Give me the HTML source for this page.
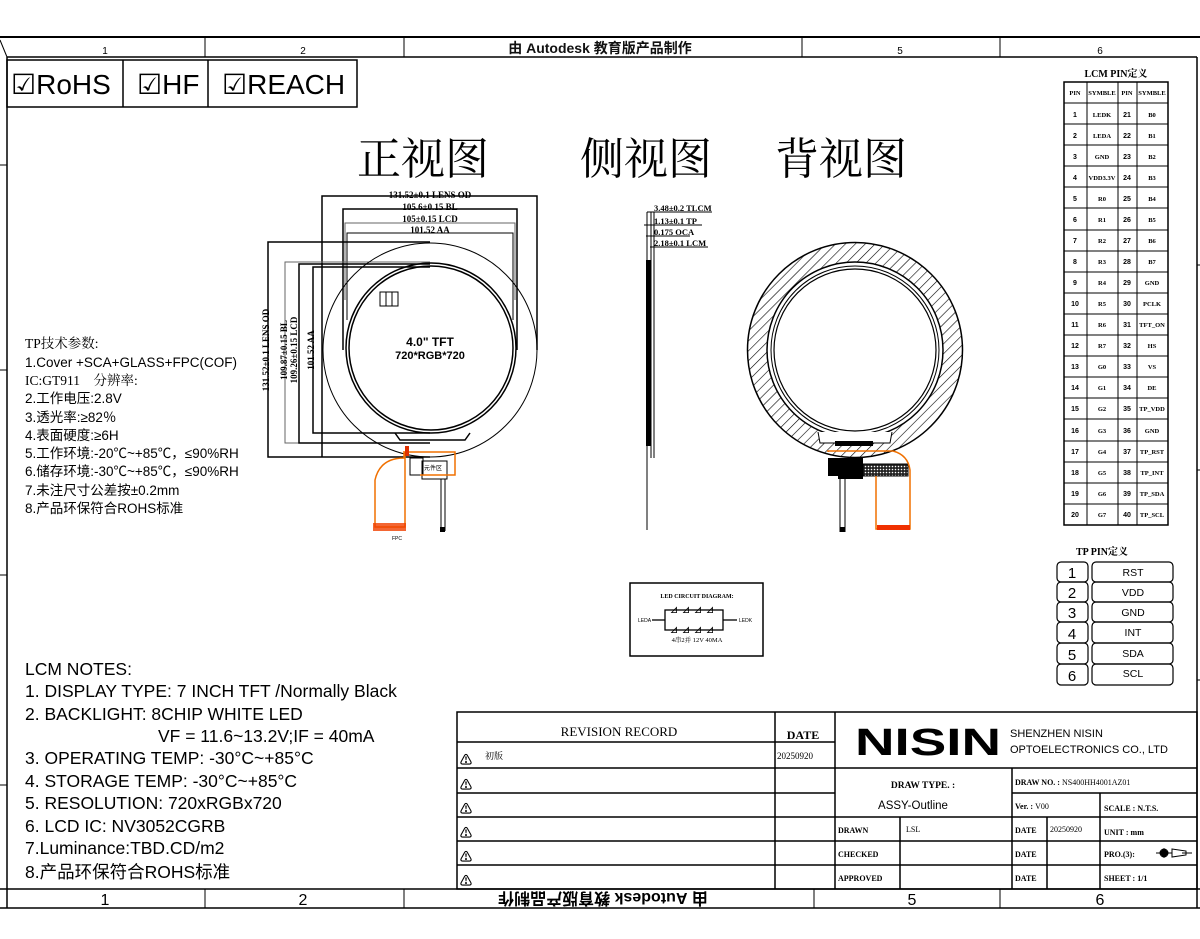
<!DOCTYPE html>
<html><head><meta charset="utf-8"><style>
html,body{margin:0;padding:0;background:#fff;}
svg{display:block;}
text{font-family:"Liberation Sans","Noto Sans CJK SC",sans-serif;}
text.s,.s text{font-family:"Liberation Serif","Noto Serif CJK SC",serif;font-weight:bold;}
text.r,.r text{font-family:"Liberation Serif","Noto Serif CJK SC",serif;}
</style></head><body>
<svg width="1200" height="939" viewBox="0 0 1200 939" xmlns="http://www.w3.org/2000/svg">
<defs>
<pattern id="h" width="7" height="7" patternUnits="userSpaceOnUse" patternTransform="rotate(45)">
<line x1="0" y1="0" x2="0" y2="7" stroke="#000" stroke-width="1.2"/></pattern>
<pattern id="dots" width="3" height="3" patternUnits="userSpaceOnUse"><rect width="3" height="3" fill="#222"/><circle cx="1.5" cy="1.5" r="0.8" fill="#fff"/></pattern>
</defs>
<!-- frame -->
<g stroke="#000" fill="none">
<line x1="0" y1="37" x2="1200" y2="37" stroke-width="2"/>
<line x1="7" y1="57" x2="1197" y2="57" stroke-width="1.5"/>
<line x1="7" y1="57" x2="7" y2="908" stroke-width="1.5"/>
<line x1="1197" y1="57" x2="1197" y2="908" stroke-width="1.5"/>
<line x1="0" y1="889" x2="1200" y2="889" stroke-width="1.5"/>
<line x1="0" y1="908" x2="1200" y2="908" stroke-width="1.5"/>
<line x1="205" y1="37" x2="205" y2="57"/><line x1="404" y1="37" x2="404" y2="57"/><line x1="802" y1="37" x2="802" y2="57"/><line x1="1000" y1="37" x2="1000" y2="57"/>
<line x1="205" y1="889" x2="205" y2="908"/><line x1="404" y1="889" x2="404" y2="908"/><line x1="814" y1="889" x2="814" y2="908"/><line x1="1000" y1="889" x2="1000" y2="908"/>
<line x1="0" y1="40" x2="7" y2="57"/>
<line x1="0" y1="165" x2="7" y2="165"/><line x1="0" y1="370" x2="7" y2="370"/><line x1="0" y1="575" x2="7" y2="575"/><line x1="0" y1="785" x2="7" y2="785"/>
<line x1="1197" y1="265" x2="1200" y2="265"/><line x1="1197" y1="470" x2="1200" y2="470"/><line x1="1197" y1="680" x2="1200" y2="680"/>
</g>
<g font-size="16" text-anchor="middle">
<text x="105" y="905">1</text><text x="303" y="905">2</text><text x="912" y="905">5</text><text x="1100" y="905">6</text>
<text x="105" y="54" font-size="10">1</text><text x="303" y="54" font-size="10">2</text><text x="900" y="54" font-size="10">5</text><text x="1100" y="54" font-size="10">6</text>
</g>
<text x="600" y="53" font-size="14" font-weight="bold" text-anchor="middle" fill="#111">由 Autodesk 教育版产品制作</text>
<text x="0" y="0" font-size="16" font-weight="bold" transform="translate(603,893) scale(-1,-1)" text-anchor="middle">由 Autodesk 教育版产品制作</text>
<!-- RoHS boxes -->
<g stroke="#000" fill="none" stroke-width="1.5">
<rect x="7" y="60" width="350" height="47"/><line x1="123" y1="60" x2="123" y2="107"/><line x1="208" y1="60" x2="208" y2="107"/>
</g>
<g font-size="28">
<text x="11" y="94">☑RoHS</text><text x="137" y="94">☑HF</text><text x="222" y="94">☑REACH</text>
</g>
<!-- titles -->
<g font-size="44">
<text x="357" y="174" style="font-family:'Noto Serif CJK SC',serif">正视图</text>
<text x="580" y="174" style="font-family:'Noto Serif CJK SC',serif">侧视图</text>
<text x="775" y="174" style="font-family:'Noto Serif CJK SC',serif">背视图</text>
</g>
<!-- front view -->
<g stroke="#000" fill="none">
<polyline points="322,457 322,196 537,196 537,350" stroke-width="1.5"/>
<polyline points="343,350 343,209 517,209 517,350" stroke-width="1.5"/>
<polyline points="345,300 345,223 515,223 515,300" stroke="#666"/>
<polyline points="347,320 347,233 513,233 513,320" stroke-width="1"/>
<polyline points="430,457 268,457 268,242 430,242" stroke-width="1.5"/>
<polyline points="430,443 285,443 285,262 430,262" stroke="#666"/>
<polyline points="430,443 299,443 299,264 430,264" stroke-width="1.5"/>
<polyline points="430,433 313,433 313,267 430,267" stroke-width="1.5"/>
<circle cx="430" cy="350" r="107" stroke-width="1"/>
<circle cx="431" cy="348" r="85" stroke-width="1.5"/>
<circle cx="431" cy="348" r="82" stroke-width="1.5"/>
<path d="M395,433 L400,440 L465,440 L470,433" stroke-width="1.5"/>
<rect x="380" y="292" width="18" height="14" stroke-width="1"/>
<line x1="386" y1="292" x2="386" y2="306"/><line x1="392" y1="292" x2="392" y2="306"/>
<rect x="410" y="458" width="13" height="17"/>
<rect x="422" y="461" width="25" height="18"/>
<line x1="441" y1="479" x2="441" y2="531" stroke-width="1"/><line x1="445" y1="479" x2="445" y2="531"/>
</g>
<rect x="440" y="527" width="5" height="5" fill="#000"/>
<g stroke="#f07000" fill="none" stroke-width="1.5">
<path d="M404,451 L404,458 Q380,458 375,480 L375,527 L405,527 L405,452"/>
<path d="M405,452 L455,452 L455,475 L420,475"/>
</g>
<rect x="373" y="523" width="33" height="8" fill="#f04000" opacity="0.8"/>
<rect x="405" y="446" width="4" height="10" fill="#e03000"/>
<g class="s" text-anchor="middle">
<text x="430" y="198" font-size="9">131.52±0.1 LENS OD</text>
<text x="430" y="210" font-size="9">105.6±0.15 BL</text>
<text x="430" y="222" font-size="9">105±0.15 LCD</text>
<text x="430" y="233" font-size="9">101.52 AA</text>
</g>
<text x="430" y="346" font-size="12" font-weight="bold" text-anchor="middle">4.0" TFT</text>
<text x="430" y="359" font-size="11" font-weight="bold" text-anchor="middle">720*RGB*720</text>
<g font-size="9" class="s" text-anchor="middle">
<text transform="translate(269,350) rotate(-90)">131.52±0.1 LENS OD</text>
<text transform="translate(287,350) rotate(-90)">109.87±0.15 BL</text>
<text transform="translate(297,350) rotate(-90)">109.26±0.15 LCD</text>
<text transform="translate(314,350) rotate(-90)">101.52 AA</text>
</g>
<text x="424" y="470" font-size="6">元件区</text>
<text x="392" y="540" font-size="5">FPC</text>
<!-- side view -->
<g stroke="#000" fill="none">
<line x1="647" y1="212" x2="647" y2="530"/><line x1="651" y1="212" x2="651" y2="458"/><line x1="654" y1="212" x2="654" y2="458"/>
<line x1="647" y1="212" x2="712" y2="212"/><line x1="644" y1="225" x2="702" y2="225"/><line x1="646" y1="236" x2="690" y2="236"/><line x1="650" y1="247" x2="708" y2="247"/>
</g>
<rect x="646" y="260" width="5" height="186" fill="#000"/>
<g font-size="8.5" class="s">
<text x="654" y="211">3.48±0.2 TLCM</text><text x="654" y="224">1.13±0.1 TP</text><text x="654" y="235">0.175 OCA</text><text x="654" y="246">2.18±0.1 LCM</text>
</g>
<!-- back view -->
<path d="M747.5,350 a107.5,107.5 0 1,0 215,0 a107.5,107.5 0 1,0 -215,0 Z M767,350 a88,88 0 1,0 176,0 a88,88 0 1,0 -176,0 Z" fill="url(#h)" fill-rule="evenodd" stroke="#000" stroke-width="1.5"/>
<circle cx="855" cy="350" r="84" fill="none" stroke="#000"/>
<circle cx="855" cy="350" r="81" fill="#fff" stroke="#000" stroke-width="1.2"/>
<path d="M818,432 L820,443 L890,443 L892,432" fill="#fff" stroke="#000"/>
<rect x="835" y="441" width="38" height="5" fill="#000"/>
<rect x="828" y="458" width="10" height="18" fill="#000"/>
<rect x="838" y="458" width="25" height="21" fill="#000"/>
<rect x="863" y="464" width="45" height="12" fill="url(#dots)" stroke="#000"/>
<line x1="840" y1="479" x2="840" y2="532" stroke="#000"/><line x1="845" y1="479" x2="845" y2="532" stroke="#000"/>
<rect x="840" y="527" width="5" height="5" fill="#000"/>
<g stroke="#f07000" fill="none" stroke-width="1.5"><path d="M828,452 L828,451 L893,451 Q908,455 910,470 L910,529 L876,529 L876,476"/></g>
<rect x="877" y="525" width="33" height="5" fill="#f03000"/>
<!-- TP params -->
<g font-size="13.5">
<text x="25" y="348" style="font-family:'Liberation Serif','Noto Serif CJK SC',serif">TP技术参数:</text>
<text x="25" y="367">1.Cover +SCA+GLASS+FPC(COF)</text>
<text x="25" y="385" style="font-family:'Liberation Serif','Noto Serif CJK SC',serif">IC:GT911　分辨率:</text>
<text x="25" y="403">2.工作电压:2.8V</text>
<text x="25" y="422">3.透光率:≥82％</text>
<text x="25" y="440">4.表面硬度:≥6H</text>
<text x="25" y="458">5.工作环境:-20℃~+85℃，≤90%RH</text>
<text x="25" y="476">6.储存环境:-30℃~+85℃，≤90%RH</text>
<text x="25" y="495">7.未注尺寸公差按±0.2mm</text>
<text x="25" y="513">8.产品环保符合ROHS标准</text>
</g>
<!-- LCM notes -->
<g font-size="17.5">
<text x="25" y="675">LCM NOTES:</text>
<text x="25" y="697">1. DISPLAY TYPE: 7 INCH TFT /Normally Black</text>
<text x="25" y="720">2. BACKLIGHT: 8CHIP WHITE LED</text>
<text x="158" y="742">VF = 11.6~13.2V;IF = 40mA</text>
<text x="25" y="764">3. OPERATING TEMP: -30°C~+85°C</text>
<text x="25" y="787">4. STORAGE TEMP: -30°C~+85°C</text>
<text x="25" y="809">5. RESOLUTION: 720xRGBx720</text>
<text x="25" y="832">6. LCD IC: NV3052CGRB</text>
<text x="25" y="854">7.Luminance:TBD.CD/m2</text>
<text x="25" y="878">8.产品环保符合ROHS标准</text>
</g>
<!-- LED circuit -->
<rect x="630" y="583" width="133" height="73" fill="none" stroke="#000" stroke-width="1.5"/>
<text x="697" y="598" font-size="6" class="s" text-anchor="middle">LED CIRCUIT DIAGRAM:</text>
<g stroke="#000" fill="none" stroke-width="1.3"><line x1="652" y1="620" x2="665" y2="620"/><rect x="665" y="610" width="58" height="20"/><line x1="723" y1="620" x2="737" y2="620"/></g>
<g font-size="8" font-weight="bold" text-anchor="middle"><text x="674" y="613">⊿</text><text x="686" y="613">⊿</text><text x="698" y="613">⊿</text><text x="710" y="613">⊿</text><text x="674" y="633">⊿</text><text x="686" y="633">⊿</text><text x="698" y="633">⊿</text><text x="710" y="633">⊿</text></g>
<text x="638" y="622" font-size="5">LEDA</text><text x="739" y="622" font-size="5">LEDK</text>
<text x="697" y="642" font-size="6.5" text-anchor="middle" class="r">4串2并 12V 40MA</text>
<!-- LCM pin table -->
<text x="1116" y="77" font-size="10" class="s" text-anchor="middle">LCM PIN定义</text>
<g stroke="#000" fill="none" stroke-width="1">
<rect x="1064" y="82" width="104" height="443" stroke-width="1.5"/>
<line x1="1087" y1="82" x2="1087" y2="525"/><line x1="1118" y1="82" x2="1118" y2="525"/><line x1="1137" y1="82" x2="1137" y2="525"/>
<line x1="1064" y1="103" x2="1168" y2="103"/><line x1="1064" y1="124" x2="1168" y2="124"/><line x1="1064" y1="145" x2="1168" y2="145"/><line x1="1064" y1="166" x2="1168" y2="166"/><line x1="1064" y1="187" x2="1168" y2="187"/><line x1="1064" y1="208" x2="1168" y2="208"/><line x1="1064" y1="230" x2="1168" y2="230"/><line x1="1064" y1="251" x2="1168" y2="251"/><line x1="1064" y1="272" x2="1168" y2="272"/><line x1="1064" y1="293" x2="1168" y2="293"/><line x1="1064" y1="314" x2="1168" y2="314"/><line x1="1064" y1="335" x2="1168" y2="335"/><line x1="1064" y1="356" x2="1168" y2="356"/><line x1="1064" y1="377" x2="1168" y2="377"/><line x1="1064" y1="398" x2="1168" y2="398"/><line x1="1064" y1="419" x2="1168" y2="419"/><line x1="1064" y1="441" x2="1168" y2="441"/><line x1="1064" y1="462" x2="1168" y2="462"/><line x1="1064" y1="483" x2="1168" y2="483"/><line x1="1064" y1="504" x2="1168" y2="504"/>
</g>
<g font-size="6.5" text-anchor="middle" class="s">
<text x="1075" y="95">PIN</text><text x="1102" y="95">SYMBLE</text><text x="1127" y="95">PIN</text><text x="1152" y="95">SYMBLE</text>
</g>
<g font-size="7" font-weight="bold" text-anchor="middle">
<text x="1075" y="117">1</text><text x="1075" y="138">2</text><text x="1075" y="159">3</text><text x="1075" y="180">4</text><text x="1075" y="201">5</text><text x="1075" y="222">6</text><text x="1075" y="243">7</text><text x="1075" y="264">8</text><text x="1075" y="285">9</text><text x="1075" y="306">10</text><text x="1075" y="327">11</text><text x="1075" y="348">12</text><text x="1075" y="369">13</text><text x="1075" y="390">14</text><text x="1075" y="411">15</text><text x="1075" y="433">16</text><text x="1075" y="454">17</text><text x="1075" y="475">18</text><text x="1075" y="496">19</text><text x="1075" y="517">20</text>
<text x="1127" y="117">21</text><text x="1127" y="138">22</text><text x="1127" y="159">23</text><text x="1127" y="180">24</text><text x="1127" y="201">25</text><text x="1127" y="222">26</text><text x="1127" y="243">27</text><text x="1127" y="264">28</text><text x="1127" y="285">29</text><text x="1127" y="306">30</text><text x="1127" y="327">31</text><text x="1127" y="348">32</text><text x="1127" y="369">33</text><text x="1127" y="390">34</text><text x="1127" y="411">35</text><text x="1127" y="433">36</text><text x="1127" y="454">37</text><text x="1127" y="475">38</text><text x="1127" y="496">39</text><text x="1127" y="517">40</text>
</g>
<g font-size="6.5" text-anchor="middle" class="s">
<text x="1102" y="117">LEDK</text><text x="1102" y="138">LEDA</text><text x="1102" y="159">GND</text><text x="1102" y="180">VDD3.3V</text><text x="1102" y="201">R0</text><text x="1102" y="222">R1</text><text x="1102" y="243">R2</text><text x="1102" y="264">R3</text><text x="1102" y="285">R4</text><text x="1102" y="306">R5</text><text x="1102" y="327">R6</text><text x="1102" y="348">R7</text><text x="1102" y="369">G0</text><text x="1102" y="390">G1</text><text x="1102" y="411">G2</text><text x="1102" y="433">G3</text><text x="1102" y="454">G4</text><text x="1102" y="475">G5</text><text x="1102" y="496">G6</text><text x="1102" y="517">G7</text>
<text x="1152" y="117">B0</text><text x="1152" y="138">B1</text><text x="1152" y="159">B2</text><text x="1152" y="180">B3</text><text x="1152" y="201">B4</text><text x="1152" y="222">B5</text><text x="1152" y="243">B6</text><text x="1152" y="264">B7</text><text x="1152" y="285">GND</text><text x="1152" y="306">PCLK</text><text x="1152" y="327">TFT_ON</text><text x="1152" y="348">HS</text><text x="1152" y="369">VS</text><text x="1152" y="390">DE</text><text x="1152" y="411">TP_VDD</text><text x="1152" y="433">GND</text><text x="1152" y="454">TP_RST</text><text x="1152" y="475">TP_INT</text><text x="1152" y="496">TP_SDA</text><text x="1152" y="517">TP_SCL</text>
</g>
<!-- TP pin table -->
<text x="1102" y="555" font-size="10" class="s" text-anchor="middle">TP PIN定义</text>
<g stroke="#000" fill="none" stroke-width="1.2">
<rect x="1057" y="562" width="31" height="20" rx="4"/><rect x="1092" y="562" width="81" height="20" rx="4"/>
<rect x="1057" y="582" width="31" height="20" rx="4"/><rect x="1092" y="582" width="81" height="20" rx="4"/>
<rect x="1057" y="602" width="31" height="20" rx="4"/><rect x="1092" y="602" width="81" height="20" rx="4"/>
<rect x="1057" y="622" width="31" height="21" rx="4"/><rect x="1092" y="622" width="81" height="21" rx="4"/>
<rect x="1057" y="643" width="31" height="21" rx="4"/><rect x="1092" y="643" width="81" height="21" rx="4"/>
<rect x="1057" y="664" width="31" height="21" rx="4"/><rect x="1092" y="664" width="81" height="21" rx="4"/>
</g>
<g font-size="15" text-anchor="middle"><text x="1072" y="578">1</text><text x="1072" y="598">2</text><text x="1072" y="618">3</text><text x="1072" y="639">4</text><text x="1072" y="660">5</text><text x="1072" y="681">6</text></g>
<g font-size="10.5" text-anchor="middle"><text x="1133" y="576">RST</text><text x="1133" y="596">VDD</text><text x="1133" y="616">GND</text><text x="1133" y="636">INT</text><text x="1133" y="657">SDA</text><text x="1133" y="677">SCL</text></g>
<!-- title block -->
<g stroke="#000" fill="none" stroke-width="1.5">
<rect x="457" y="712" width="740" height="177"/>
<line x1="457" y1="742" x2="835" y2="742"/>
<line x1="457" y1="768" x2="1197" y2="768"/>
<line x1="457" y1="793" x2="835" y2="793"/>
<line x1="1012" y1="793" x2="1197" y2="793"/>
<line x1="457" y1="817" x2="1197" y2="817"/>
<line x1="457" y1="841" x2="1197" y2="841"/>
<line x1="457" y1="865" x2="1197" y2="865"/>
<line x1="775" y1="712" x2="775" y2="889"/>
<line x1="835" y1="712" x2="835" y2="889"/>
<line x1="1012" y1="768" x2="1012" y2="889"/>
<line x1="1100" y1="793" x2="1100" y2="889"/>
<line x1="900" y1="817" x2="900" y2="889"/>
<line x1="1047" y1="817" x2="1047" y2="889"/>
</g>
<text x="619" y="736" font-size="13" text-anchor="middle" class="r">REVISION  RECORD</text>
<text x="803" y="739" font-size="12" text-anchor="middle" class="s">DATE</text>
<g font-size="12" font-weight="bold" text-anchor="middle">
<text x="466" y="764">⚠</text><text x="466" y="789">⚠</text><text x="466" y="813">⚠</text><text x="466" y="837">⚠</text><text x="466" y="861">⚠</text><text x="466" y="885">⚠</text>
</g>
<text x="485" y="759" font-size="9" class="r">初版</text>
<text x="777" y="759" font-size="9" class="r">20250920</text>
<text x="855" y="755" font-size="38" font-weight="bold" textLength="146" lengthAdjust="spacingAndGlyphs">NISIN</text>
<text x="1010" y="737" font-size="11">SHENZHEN NISIN</text>
<text x="1010" y="753" font-size="11">OPTOELECTRONICS CO., LTD</text>
<text x="923" y="788" font-size="9.5" class="s" text-anchor="middle">DRAW TYPE. :</text>
<text x="913" y="809" font-size="11.5" text-anchor="middle">ASSY-Outline</text>
<g font-size="8" class="s">
<text x="1015" y="785">DRAW NO. : <tspan font-weight="normal">NS400HH4001AZ01</tspan></text>
<text x="1015" y="809">Ver. :  <tspan font-weight="normal">V00</tspan></text>
<text x="1104" y="811">SCALE : N.T.S.</text>
<text x="838" y="833">DRAWN</text><text x="838" y="857">CHECKED</text><text x="838" y="881">APPROVED</text>
<text x="1015" y="833">DATE</text><text x="1015" y="857">DATE</text><text x="1015" y="881">DATE</text>
<text x="1104" y="835">UNIT : mm</text>
<text x="1104" y="857">PRO.(3):</text>
<text x="1104" y="881">SHEET :  1/1</text>
</g>
<text x="906" y="832" font-size="8" class="r">LSL</text>
<text x="1050" y="832" font-size="8" class="r">20250920</text>
<g stroke="#000" fill="none"><circle cx="1164" cy="853" r="4"/><line x1="1156" y1="853" x2="1172" y2="853"/><path d="M1172,849 L1186,851 L1186,855 L1172,857 Z"/><line x1="1182" y1="853" x2="1192" y2="853"/></g>
<path d="M1159,853 L1164,848 L1169,853 L1164,858 Z" fill="#000"/>
</svg>
</body></html>
